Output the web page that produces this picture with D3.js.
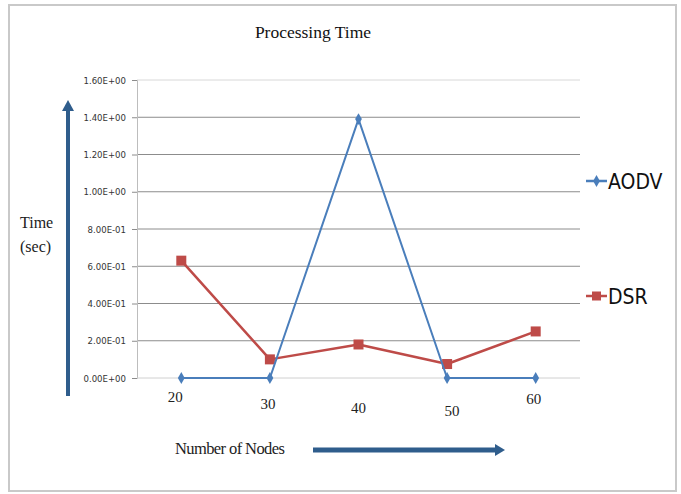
<!DOCTYPE html>
<html>
<head>
<meta charset="utf-8">
<script src="https://cdn.jsdelivr.net/npm/d3@7"></script>
<style>
  html, body { margin: 0; padding: 0; background: #fff; }
  svg { display: block; }
</style>
</head>
<body>
<svg id="chart" width="681" height="494"></svg>
<script>
// Processing time per node count for the two routing protocols
const nodes = ["20", "30", "40", "50", "60"];
const aodv = [0, 0, 1.39, 0, 0];
const dsr = [0.63, 0.10, 0.18, 0.075, 0.25];
const yTicks = [0, 0.2, 0.4, 0.6, 0.8, 1.0, 1.2, 1.4, 1.6];
const yTickLabels = ["0.00E+00", "2.00E-01", "4.00E-01", "6.00E-01", "8.00E-01",
                     "1.00E+00", "1.20E+00", "1.40E+00", "1.60E+00"];
const seriesNames = ["AODV", "DSR"];

const svg = d3.select("#chart");
const blue = "#4a7ebb";
const red = "#be4b48";
const arrowBlue = "#2f5d8c";

// outer frame
svg.append("rect")
  .attr("x", 9).attr("y", 5).attr("width", 667).attr("height", 486)
  .attr("fill", "#fff").attr("stroke", "#c9c9c9").attr("stroke-width", 2);

const plotLeft = 137, plotRight = 580, plotTop = 80, plotBottom = 378;

const x = d3.scaleBand().domain(nodes).range([plotLeft, plotRight]);
const y = d3.scaleLinear().domain([0, 1.6]).range([plotBottom, plotTop]);

// horizontal gridlines
svg.append("g").selectAll("line")
  .data(yTicks.filter(v => v > 0))
  .join("line")
  .attr("x1", plotLeft).attr("x2", plotRight)
  .attr("y1", d => y(d)).attr("y2", d => y(d))
  .attr("stroke", d => d === 1.6 ? "#d8d8d8" : "#8c8c8c")
  .attr("stroke-width", 1);

// y axis with scientific-notation labels
const yAxis = d3.axisLeft(y)
  .tickValues(yTicks)
  .tickSize(5)
  .tickPadding(6)
  .tickFormat((d, i) => yTickLabels[i]);
const gy = svg.append("g").attr("transform", `translate(${plotLeft},0)`).call(yAxis);
gy.select(".domain").attr("stroke", "#bdbdbd");
gy.selectAll(".tick line").attr("stroke", "#8c8c8c");
gy.selectAll(".tick text")
  .attr("font-family", "'Liberation Sans Narrow', 'DejaVu Sans Condensed', 'Liberation Sans', sans-serif")
  .attr("font-size", 9.5)
  .attr("fill", "#333");

// x axis line (baseline)
svg.append("line")
  .attr("x1", plotLeft).attr("x2", plotRight)
  .attr("y1", plotBottom).attr("y2", plotBottom)
  .attr("stroke", "#d0d0d0");

// x category labels
const xAxis = d3.axisBottom(x).tickSize(0).tickPadding(17);
const gx = svg.append("g").attr("transform", `translate(0,${plotBottom})`).call(xAxis);
gx.select(".domain").remove();
gx.selectAll(".tick text")
  .attr("font-family", "'Liberation Serif', 'Times New Roman', serif")
  .attr("font-size", 15)
  .attr("fill", "#222")
  .attr("dx", (d, i) => [-6, -2, 0, 5, -2][i])
  .attr("dy", (d, i) => [0.5, 8, 12, 15, 3][i] + 6);

const cx = d => x(d) + x.bandwidth() / 2;
const line = d3.line().x((d, i) => cx(nodes[i])).y(d => y(d));

// DSR series
svg.append("path").datum(dsr)
  .attr("d", line).attr("fill", "none")
  .attr("stroke", red).attr("stroke-width", 2.5).attr("stroke-linejoin", "round");
svg.append("g").selectAll("rect").data(dsr).join("rect")
  .attr("x", (d, i) => cx(nodes[i]) - 5).attr("y", d => y(d) - 5)
  .attr("width", 10).attr("height", 10).attr("fill", red);

// AODV series
svg.append("path").datum(aodv)
  .attr("d", line).attr("fill", "none")
  .attr("stroke", blue).attr("stroke-width", 2).attr("stroke-linejoin", "round");
svg.append("g").selectAll("path.mk").data(aodv).join("path")
  .attr("class", "mk")
  .attr("transform", (d, i) => `translate(${cx(nodes[i])},${y(d)})`)
  .attr("d", d3.symbol(d3.symbolDiamond, 40))
  .attr("fill", blue);

// title
svg.append("text")
  .attr("x", 313).attr("y", 38)
  .attr("text-anchor", "middle")
  .attr("font-family", "'Liberation Serif', 'Times New Roman', serif")
  .attr("font-size", 17.5)
  .attr("fill", "#111")
  .text("Processing Time");

// legend
const legendFont = "'Liberation Sans Narrow', 'DejaVu Sans Condensed', 'Open Sans', sans-serif";
const legendY = [181, 296];
const legendColors = [blue, red];
seriesNames.forEach((name, i) => {
  const g = svg.append("g");
  g.append("line")
    .attr("x1", 586).attr("x2", 607)
    .attr("y1", legendY[i]).attr("y2", legendY[i])
    .attr("stroke", legendColors[i]).attr("stroke-width", 2.5);
  if (i === 0) {
    g.append("path")
      .attr("transform", `translate(596.5,${legendY[i]})`)
      .attr("d", d3.symbol(d3.symbolDiamond, 40))
      .attr("fill", blue);
  } else {
    g.append("rect")
      .attr("x", 592).attr("y", legendY[i] - 4.5)
      .attr("width", 9).attr("height", 9).attr("fill", red);
  }
  g.append("text")
    .attr("x", 608).attr("y", legendY[i] + 8)
    .attr("font-family", legendFont)
    .attr("font-size", 21)
    .attr("fill", "#111")
    .text(name);
});

// axis titles
const serif = "'Liberation Serif', 'Times New Roman', serif";
svg.append("text").attr("x", 20).attr("y", 228)
  .attr("font-family", serif).attr("font-size", 16).attr("fill", "#222").text("Time");
svg.append("text").attr("x", 20).attr("y", 252)
  .attr("font-family", serif).attr("font-size", 16).attr("fill", "#222").text("(sec)");
svg.append("text").attr("x", 175).attr("y", 454)
  .attr("font-family", serif).attr("font-size", 16.5).attr("fill", "#222")
  .style("letter-spacing", "-0.6px")
  .text("Number of Nodes");

// direction arrows beside the axes
svg.append("line")
  .attr("x1", 68).attr("x2", 68).attr("y1", 396).attr("y2", 110)
  .attr("stroke", arrowBlue).attr("stroke-width", 4);
svg.append("path")
  .attr("d", "M62,111 L68,100 L74,111 Z").attr("fill", arrowBlue);

svg.append("line")
  .attr("x1", 313).attr("x2", 496).attr("y1", 450).attr("y2", 450)
  .attr("stroke", arrowBlue).attr("stroke-width", 5);
svg.append("path")
  .attr("d", "M495,444 L505,450 L495,456 Z").attr("fill", arrowBlue);
</script>
</body>
</html>
